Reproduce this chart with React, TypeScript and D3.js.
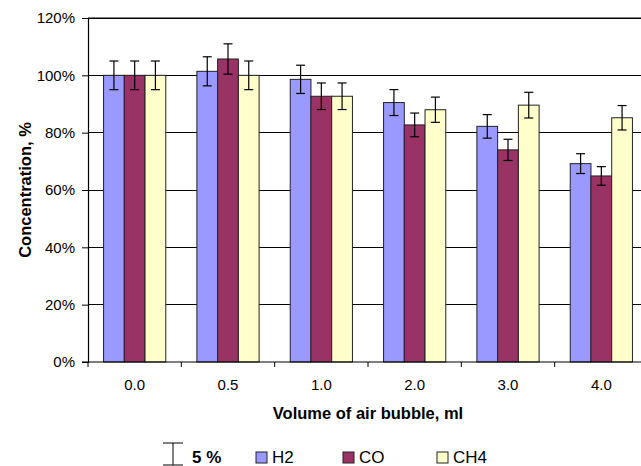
import { useRef, useEffect } from 'react';
import * as d3 from 'd3';

const WIDTH = 641;
const HEIGHT = 466;
const MARGIN = { top: 18, left: 88, bottom: 104, right: -7 };

const categories = ['0.0', '0.5', '1.0', '2.0', '3.0', '4.0'];
const h2 = [100, 101.4, 98.6, 90.5, 82.2, 69.2];
const co = [100, 105.7, 92.7, 82.7, 74.0, 64.9];
const ch4 = [100, 100, 92.7, 88.0, 89.6, 85.2];
const yTicks = [0, 20, 40, 60, 80, 100, 120];
const ERROR_PCT = 5; // relative error, % of value

const SERIES = [
  { key: 'H2', values: h2, color: '#9999FF' },
  { key: 'CO', values: co, color: '#993366' },
  { key: 'CH4', values: ch4, color: '#FFFFCC' },
];

const FONT = '"Liberation Sans", Arial, sans-serif';

export default function App() {
  const svgRef = useRef<SVGSVGElement>(null);

  useEffect(() => {
    const svg = d3.select(svgRef.current);
    svg.selectAll('*').remove();

    const w = WIDTH - MARGIN.left - MARGIN.right;
    const h = HEIGHT - MARGIN.top - MARGIN.bottom;
    const g = svg.append('g').attr('transform', `translate(${MARGIN.left},${MARGIN.top})`);

    const x0 = d3.scaleBand().domain(categories).range([0, w]).paddingInner(0).paddingOuter(0);
    // gap width 150% -> bar = band / 4.5
    const barW = x0.bandwidth() / 4.5;
    const x1 = d3.scaleBand().domain(SERIES.map(s => s.key))
      .range([barW * 0.75, barW * 3.75]).padding(0);
    const y = d3.scaleLinear().domain([0, 120]).range([h, 0]);

    // gridlines
    g.append('g').selectAll('line').data(yTicks.slice(1)).join('line')
      .attr('x1', 0).attr('x2', w)
      .attr('y1', d => y(d)).attr('y2', d => y(d))
      .attr('stroke', '#000').attr('stroke-width', 1).attr('shape-rendering', 'crispEdges');

    // bars
    SERIES.forEach(s => {
      g.append('g').selectAll('rect').data(s.values).join('rect')
        .attr('x', (d, i) => x0(categories[i])! + x1(s.key)!)
        .attr('y', d => y(d))
        .attr('width', x1.bandwidth())
        .attr('height', d => h - y(d))
        .attr('fill', s.color)
        .attr('stroke', '#222').attr('stroke-width', 1);
    });

    // error bars
    SERIES.forEach(s => {
      s.values.forEach((v, i) => {
        const cx = x0(categories[i])! + x1(s.key)! + x1.bandwidth() / 2;
        const e = v * ERROR_PCT / 100;
        const eg = g.append('g').attr('stroke', '#000').attr('stroke-width', 1.2);
        eg.append('line').attr('x1', cx).attr('x2', cx).attr('y1', y(v + e)).attr('y2', y(v - e));
        eg.append('line').attr('x1', cx - 4.5).attr('x2', cx + 4.5).attr('y1', y(v + e)).attr('y2', y(v + e));
        eg.append('line').attr('x1', cx - 4.5).attr('x2', cx + 4.5).attr('y1', y(v - e)).attr('y2', y(v - e));
      });
    });

    // y axis
    const yAxis = g.append('g')
      .call(d3.axisLeft(y).tickValues(yTicks).tickFormat(d => `${d}%`).tickSize(6).tickPadding(7));
    yAxis.select('.domain').attr('stroke', '#000').attr('stroke-width', 1.2);
    yAxis.selectAll('text').attr('font-family', FONT).attr('font-size', 15).attr('fill', '#000');

    // x axis
    const xTickPos = d3.range(categories.length + 1).map(i => i * x0.step());
    const xAxis = g.append('g').attr('transform', `translate(0,${h})`);
    xAxis.append('line').attr('x1', -6).attr('x2', w).attr('stroke', '#000').attr('stroke-width', 1.2);
    xAxis.selectAll('line.tick').data(xTickPos).join('line').attr('class', 'tick')
      .attr('x1', d => d).attr('x2', d => d).attr('y1', 0).attr('y2', 5)
      .attr('stroke', '#000');
    xAxis.selectAll('text').data(categories).join('text')
      .attr('x', d => x0(d)! + x0.bandwidth() / 2).attr('y', 28)
      .attr('text-anchor', 'middle').attr('font-family', FONT).attr('font-size', 15)
      .text(d => d);

    // top border
    g.append('line').attr('x1', 0).attr('x2', w).attr('y1', 0).attr('y2', 0)
      .attr('stroke', '#000').attr('stroke-width', 1.2);

    // axis titles
    svg.append('text')
      .attr('transform', `translate(31,${MARGIN.top + h / 2}) rotate(-90)`)
      .attr('text-anchor', 'middle').attr('font-family', FONT).attr('font-size', 16.5)
      .attr('font-weight', 'bold').text('Concentration, %');
    svg.append('text')
      .attr('x', MARGIN.left + w / 2).attr('y', 419)
      .attr('text-anchor', 'middle').attr('font-family', FONT).attr('font-size', 16.5)
      .attr('font-weight', 'bold').text('Volume of air bubble, ml');

    // legend
    const lg = svg.append('g').attr('transform', 'translate(0,457)');
    const eIcon = lg.append('g').attr('stroke', '#000').attr('stroke-width', 1);
    eIcon.append('line').attr('x1', 173).attr('x2', 173).attr('y1', -14).attr('y2', 8);
    eIcon.append('line').attr('x1', 163).attr('x2', 183).attr('y1', -14).attr('y2', -14);
    eIcon.append('line').attr('x1', 163).attr('x2', 183).attr('y1', 8).attr('y2', 8);
    lg.append('text').attr('x', 192).attr('y', 6)
      .attr('font-family', FONT).attr('font-size', 17).attr('font-weight', 'bold')
      .text(`${ERROR_PCT} %`);
    const legX = [256, 343, 437];
    SERIES.forEach((s, i) => {
      lg.append('rect').attr('x', legX[i]).attr('y', -5).attr('width', 11).attr('height', 11)
        .attr('fill', s.color).attr('stroke', '#222');
      lg.append('text').attr('x', legX[i] + 16).attr('y', 6)
        .attr('font-family', FONT).attr('font-size', 17).text(s.key);
    });
  }, []);

  return (
    <svg ref={svgRef} width={WIDTH} height={HEIGHT}
      style={{ position: 'absolute', left: 0, top: 0, background: '#fff' }} />
  );
}
